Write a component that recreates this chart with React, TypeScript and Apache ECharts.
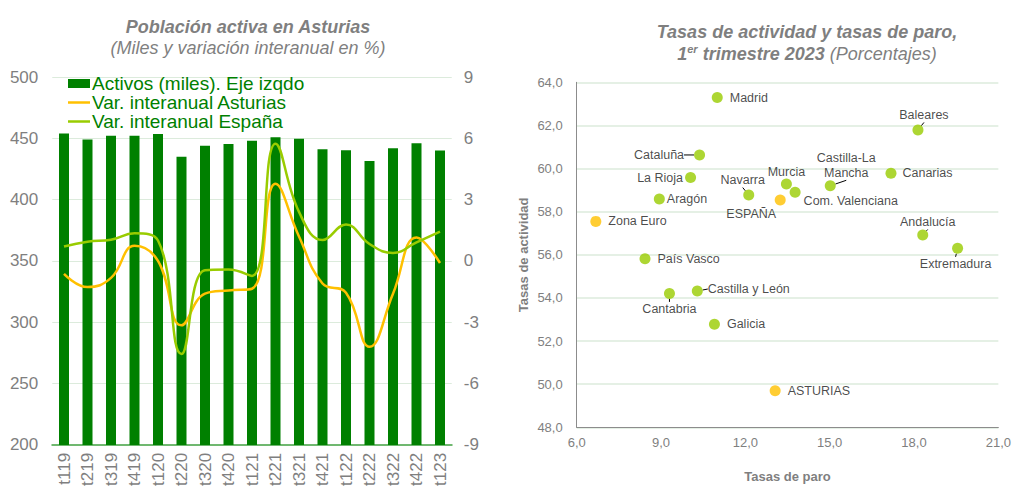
import React, { useEffect, useRef } from "react";
import * as echarts from "echarts";

// ---------- Left chart data ----------
const quarters = ["t119","t219","t319","t419","t120","t220","t320","t420","t121","t221","t321","t421","t122","t222","t322","t422","t123"];
const activos = [454, 449, 452, 452, 453.5, 435, 444, 445.4, 448, 450.8, 449.7, 441, 440.2, 431.6, 441.9, 446, 440];
const varAsturias = [-0.63, -1.28, -0.83, 0.74, 0.0, -3.15, -1.6, -1.44, -1.36, 3.78, 1.2, -1.1, -1.55, -4.2, -1.6, 1.15, -0.1];
const varEspana = [0.71, 0.94, 1.04, 1.35, 1.0, -4.55, -0.45, -0.42, -0.73, 5.74, 2.4, 1.02, 1.78, 0.83, 0.39, 0.91, 1.43];

// ---------- Right chart data ----------
const regions = ["Madrid","Baleares","Cataluña","La Rioja","Aragón","Navarra","Murcia","Com. Valenciana","ESPAÑA","Castilla-La\nMancha","Canarias","Zona Euro","Andalucía","Extremadura","País Vasco","Cantabria","Castilla y León","Galicia","ASTURIAS"];
const tasaParo = [11.0, 18.14, 10.37, 10.05, 8.94, 12.12, 13.46, 13.77, 13.24, 15.02, 17.18, 6.68, 18.31, 19.55, 8.43, 9.3, 10.29, 10.9, 13.06];
const tasaActividad = [63.29, 61.79, 60.63, 59.58, 58.59, 58.77, 59.28, 58.9, 58.54, 59.2, 59.78, 57.55, 56.92, 56.3, 55.82, 54.21, 54.32, 52.78, 49.7];
const highlighted = ["ESPAÑA", "Zona Euro", "ASTURIAS"];

// label placement (style only)
const labelPlace: Record<string, any> = {
  "Madrid": { position: "right", distance: 7 },
  "Baleares": { position: "top", distance: 2, dx: 6, dy: 0, line: true },
  "Cataluña": { position: "left", distance: 4, dx: -6, dy: 0, line: true },
  "La Rioja": { position: "left", distance: 2 },
  "Aragón": { position: "right", distance: 2 },
  "Navarra": { position: "top", distance: 2, dx: -6, dy: 0, line: true },
  "Murcia": { position: "top", distance: -1 },
  "Com. Valenciana": { position: "right", distance: 3, dx: 0, dy: 9 },
  "ESPAÑA": { position: "bottom", distance: 1, dx: -29, dy: 0 },
  "Castilla-La\nMancha": { position: "top", distance: 3, dx: 16, dy: 3, line: true },
  "Canarias": { position: "right", distance: 6 },
  "Zona Euro": { position: "right", distance: 7 },
  "Andalucía": { position: "top", distance: 3, dx: 5, dy: 3, line: true },
  "Extremadura": { position: "bottom", distance: 3, dx: -2, dy: 0, line: true },
  "País Vasco": { position: "right", distance: 7 },
  "Cantabria": { position: "bottom", distance: 3, dx: 0, dy: 0, line: true },
  "Castilla y León": { position: "right", distance: 2, dx: 3, dy: -2, line: true },
  "Galicia": { position: "right", distance: 7 },
  "ASTURIAS": { position: "right", distance: 7 },
};

const GRAY = "#7f7f7f";
const FONT = "Liberation Sans, Arial, sans-serif";
const LINE_ICON = "path://M0,0h44v5h-44z";

export default function App() {
  const ref = useRef<HTMLDivElement>(null);
  useEffect(() => {
    if (!ref.current) return;
    const chart = echarts.init(ref.current, undefined, { renderer: "svg" });

    const scatterData = regions.map((name, i) => {
      const p = labelPlace[name] || { position: "right", distance: 6 };
      const color = highlighted.includes(name) ? "#ffc000" : "#99cc00";
      return {
        name,
        value: [tasaParo[i], tasaActividad[i]],
        itemStyle: { color },
        label: {
          show: true,
          formatter: name,
          position: p.position,
          distance: p.distance,
          align: name.includes("\n") ? "center" : undefined,
          lineHeight: 15,
        },
        labelLine: { show: !!p.line, lineStyle: { color: "#000", width: 1 } },
      };
    });

    const option: any = {
      animation: false,
      textStyle: { fontFamily: FONT },
      title: [
        {
          text: "Población activa en Asturias",
          subtext: "(Miles y variación interanual en %)",
          left: 243, top: 13, textAlign: "center",
          textStyle: { fontSize: 18, fontWeight: "bold", fontStyle: "italic", color: GRAY, fontFamily: FONT },
          subtextStyle: { fontSize: 18, fontStyle: "italic", color: GRAY, fontFamily: FONT },
          itemGap: 3,
        },
        {
          text: "Tasas de actividad y tasas de paro,\n{b|1}{sup|er}{b| trimestre 2023} {n|(Porcentajes)}",
          left: 802, top: 16, textAlign: "center",
          textStyle: {
            fontSize: 18, fontWeight: "bold", fontStyle: "italic", color: GRAY, fontFamily: FONT, lineHeight: 22,
            rich: {
              b: { fontSize: 18, fontWeight: "bold", fontStyle: "italic", color: GRAY, fontFamily: FONT },
              sup: { fontSize: 11, fontWeight: "bold", fontStyle: "italic", color: GRAY, fontFamily: FONT, verticalAlign: "top", padding: [0, 0, 8, 0] },
              n: { fontSize: 18, fontWeight: "normal", fontStyle: "italic", color: GRAY, fontFamily: FONT },
            },
          },
        },
      ],
      legend: {
        orient: "vertical",
        left: 63, top: 69,
        itemGap: 0,
        itemWidth: 22, itemHeight: 9,
        textStyle: { fontSize: 19, color: "#008000", fontFamily: FONT, lineHeight: 19, padding: [0, 0, 0, -3] },
        data: [
          { name: "Activos (miles). Eje izqdo", icon: "rect" },
          { name: "Var. interanual Asturias", icon: LINE_ICON, itemStyle: { color: "#ffc000" } },
          { name: "Var. interanual España", icon: LINE_ICON, itemStyle: { color: "#99cc00" } },
        ],
      },
      grid: [
        { left: 52.25, width: 399.5, top: 77, height: 370 },
        { left: 576.7, width: 423.3, top: 82.3, height: 345 },
      ],
      xAxis: [
        {
          gridIndex: 0, type: "category", data: quarters,
          axisLine: { onZero: false, lineStyle: { color: "#70b870", width: 2 } },
          axisTick: { show: false },
          axisLabel: { rotate: 90, fontSize: 17, color: GRAY, margin: 8, interval: 0 },
        },
        {
          gridIndex: 1, type: "value", min: 6, max: 21, interval: 3,
          axisLine: { show: true, onZero: false, lineStyle: { color: "#8c8c8c", width: 1 } },
          axisTick: { show: false },
          splitLine: { show: false },
          axisLabel: { fontSize: 13, color: GRAY, margin: 9, formatter: (v: number) => v.toFixed(1).replace(".", ",") },
          name: "Tasas de paro", nameLocation: "middle", nameGap: 43,
          nameTextStyle: { fontSize: 13, fontWeight: "bold", color: GRAY },
        },
      ],
      yAxis: [
        {
          gridIndex: 0, type: "value", min: 200, max: 500, interval: 50,
          axisLine: { show: false }, axisTick: { show: false },
          splitLine: { lineStyle: { color: "#dcebdc", width: 1 } },
          axisLabel: { fontSize: 17, color: GRAY, margin: 14 },
        },
        {
          gridIndex: 0, type: "value", min: -9, max: 9, interval: 3, position: "right",
          axisLine: { show: false }, axisTick: { show: false },
          splitLine: { show: false },
          axisLabel: { fontSize: 17, color: GRAY, margin: 12 },
        },
        {
          gridIndex: 1, type: "value", min: 48, max: 64, interval: 2,
          axisLine: { show: true, onZero: false, lineStyle: { color: "#8c8c8c", width: 1 } },
          axisTick: { show: false },
          splitLine: { lineStyle: { color: "#dcebdc", width: 1.5 } },
          axisLabel: { fontSize: 13, color: GRAY, margin: 14, formatter: (v: number) => v.toFixed(1).replace(".", ",") },
          name: "Tasas de actividad", nameLocation: "middle", nameGap: 47,
          nameTextStyle: { fontSize: 13, fontWeight: "bold", color: GRAY },
        },
      ],
      series: [
        {
          name: "Activos (miles). Eje izqdo", type: "bar", xAxisIndex: 0, yAxisIndex: 0,
          data: activos, barWidth: 10, itemStyle: { color: "#008000" },
        },
        {
          name: "Var. interanual Asturias", type: "line", xAxisIndex: 0, yAxisIndex: 1,
          data: varAsturias, smooth: 0.45, showSymbol: false, symbol: "none",
          lineStyle: { color: "#ffc000", width: 2.5 }, itemStyle: { color: "#ffc000" },
        },
        {
          name: "Var. interanual España", type: "line", xAxisIndex: 0, yAxisIndex: 1,
          data: varEspana, smooth: 0.45, showSymbol: false, symbol: "none",
          lineStyle: { color: "#99cc00", width: 2.5 }, itemStyle: { color: "#99cc00" },
        },
        {
          name: "Regiones", type: "scatter", xAxisIndex: 1, yAxisIndex: 2,
          symbolSize: 11,
          data: scatterData,
          label: { show: true, fontSize: 12.5, color: "#1a1a1a", fontFamily: FONT },
          labelLine: { show: true, lineStyle: { color: "#000", width: 1 } },
          labelLayout: (params: any) => {
            const name = regions[params.dataIndex];
            const p = labelPlace[name];
            if (p && (p.dx !== undefined || p.dy !== undefined)) return { dx: p.dx || 0, dy: p.dy || 0 };
            return {};
          },
        },
      ],
    };
    chart.setOption(option);
    return () => chart.dispose();
  }, []);
  return (
    <div
      ref={ref}
      style={{ position: "fixed", left: 0, top: 0, width: 1014, height: 489, background: "#fff" }}
    />
  );
}
